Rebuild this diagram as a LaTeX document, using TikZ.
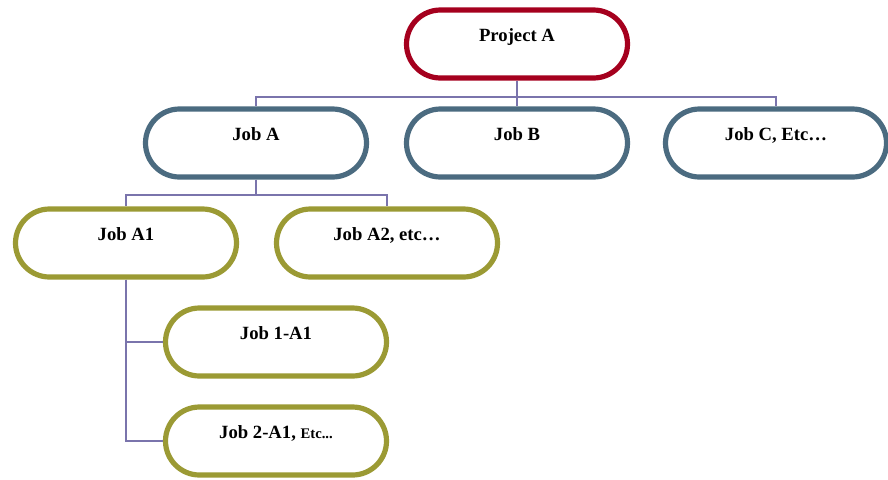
\documentclass[tikz,border=0pt]{standalone}
\usepackage{fontspec}
\setmainfont{Liberation Serif}
\usetikzlibrary{shapes.misc, positioning}

\definecolor{projred}{HTML}{A5001E}
\definecolor{jobteal}{HTML}{4B6B80}
\definecolor{subolive}{HTML}{9B9A34}
\definecolor{linkviolet}{HTML}{7A74AC}

\begin{document}
\begin{tikzpicture}[
            x = 0.75pt,
            y = 0.75pt,
            node distance = 74.25pt and 195.75pt,
            on grid,
            box/.style = {
                rounded rectangle, draw, fill = white,
                line width = 3.9pt,
                minimum width = 165.75pt, minimum height = 51pt,
                inner sep = 0pt,
                font = \fontsize{14}{16}\selectfont\bfseries,
                text height = 10pt, text depth = 14.5pt
            },
            projbox/.style = {box, draw = projred},
            jobbox/.style = {box, draw = jobteal},
            subbox/.style = {box, draw = subolive},
            link/.style = {draw = linkviolet, line width = 1.1pt}
        ]
        \useasboundingbox (0,0) rectangle (888,-479);

        \node[projbox] (P) at (517,-44) {Project A};
        \node[jobbox, below = of P] (JB) {Job B};
        \node[jobbox, left = of JB] (JA) {Job A};
        \node[jobbox, right = 194.25pt of JB] (JC) {Job C, Etc…};
        \node[subbox, below left = 75pt and 97.5pt of JA] (A1) {Job A1};
        \node[subbox, right = of A1] (A2) {Job A2, etc…};
        \node[subbox, below right = 74.25pt and 112.5pt of A1] (J1) {Job 1-A1};
        \node[subbox, below = of J1] (J2) {Job 2-A1, {\fontsize{11}{13}\selectfont Etc...}};

        \draw[link] (P.south) -- ++(0,-12.4pt) -| (JA.north);
        \draw[link] (P.south) -- ++(0,-12.4pt) -| (JB.north);
        \draw[link] (P.south) -- ++(0,-12.4pt) -| (JC.north);
        \draw[link] (JA.south) -- ++(0,-11.6pt) -| (A1.north);
        \draw[link] (JA.south) -- ++(0,-11.6pt) -| (A2.north);
        \draw[link] (A1.south) |- (J1.west);
        \draw[link] (A1.south) |- (J2.west);
    \end{tikzpicture}
\end{document}
